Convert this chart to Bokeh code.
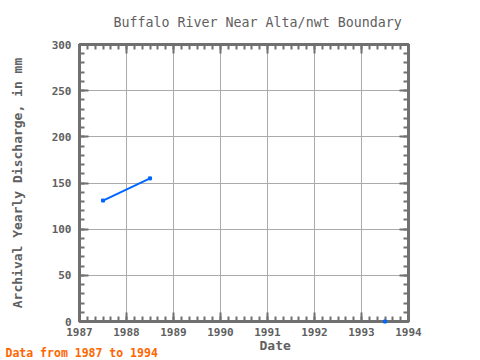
from bokeh.plotting import figure
from bokeh.models import Range1d, LinearAxis, Title, FixedTicker
from bokeh.embed import file_html
from bokeh.resources import INLINE

years = [1987.5, 1988.5, 1989.5, 1990.5, 1991.5, 1992.5, 1993.5]
discharge = [131.0, 155.0, float("nan"), float("nan"), float("nan"), float("nan"), 0.0]
x_ticks = [1987, 1988, 1989, 1990, 1991, 1992, 1993, 1994]
y_ticks = [0, 50, 100, 150, 200, 250, 300]
title_text = "Buffalo River Near Alta/nwt Boundary"
y_label = "Archival Yearly Discharge, in mm"
x_label = "Date"
note_text = "Data from 1987 to 1994"

FONT = "DejaVu Sans Mono"
GRAY = "#707070"
TXT = "#606060"

p = figure(width=480, height=360, output_backend="svg", toolbar_location=None,
           x_range=Range1d(1987, 1994), y_range=Range1d(0, 300),
           frame_width=329, frame_height=277,
           min_border_left=79, min_border_right=72, min_border_top=44, min_border_bottom=39,
           x_axis_location=None, y_axis_location=None)

p.outline_line_color = GRAY
p.outline_line_width = 3

minor_x = [1987 + i / 6 for i in range(43)]
minor_y = list(range(0, 301, 10))

def mk_axis(kind, labels):
    ax = LinearAxis()
    if kind == "x":
        ax.ticker = FixedTicker(ticks=x_ticks, minor_ticks=minor_x)
    else:
        ax.ticker = FixedTicker(ticks=y_ticks, minor_ticks=minor_y)
    ax.axis_line_color = GRAY
    ax.axis_line_width = 3
    ax.major_tick_line_color = GRAY
    ax.minor_tick_line_color = GRAY
    ax.major_tick_line_width = 2
    ax.minor_tick_line_width = 2
    ax.major_tick_in = 9
    ax.major_tick_out = 0
    ax.minor_tick_in = 5
    ax.minor_tick_out = 0
    if labels:
        ax.major_label_text_font = FONT
        ax.major_label_text_font_size = "11px"
        ax.major_label_text_color = TXT
        ax.major_label_text_font_style = "bold"
    else:
        ax.major_label_text_font_size = "0px"
        ax.major_label_text_color = None
        ax.major_label_standoff = 0
    return ax

bx = mk_axis("x", True)
bx.major_label_standoff = 6
p.add_layout(bx, "below")

ly = mk_axis("y", True)
ly.major_label_standoff = 8
ly.axis_label = y_label
ly.axis_label_text_font = FONT
ly.axis_label_text_font_size = "13px"
ly.axis_label_text_font_style = "bold"
ly.axis_label_text_color = TXT
ly.axis_label_standoff = 24
p.add_layout(ly, "left")

p.add_layout(mk_axis("x", False), "above")
p.add_layout(mk_axis("y", False), "right")

p.xgrid.ticker = FixedTicker(ticks=x_ticks)
p.ygrid.ticker = FixedTicker(ticks=y_ticks)
for g in (p.xgrid, p.ygrid):
    g.grid_line_color = "#aaaaaa"
    g.grid_line_width = 1

p.line(years, discharge, line_color="#0066ff", line_width=2)
p.scatter(years, discharge, marker="square", size=3, color="#0066ff", level="overlay")

p.title.text = title_text
p.title.text_font = FONT
p.title.text_font_size = "13.3px"
p.title.text_font_style = "normal"
p.title.text_color = TXT
p.title.align = "left"
p.title.offset = 34
p.title.standoff = 25
p.title.vertical_align = "top"

date_title = Title(text=x_label, text_font=FONT, text_font_size="13px", text_font_style="bold",
                   text_color=TXT, align="left", offset=180, standoff=-4,
                   vertical_align="middle")
p.add_layout(date_title, "below")

note_title = Title(text=note_text, text_font=FONT, text_font_size="11.5px", text_font_style="bold",
                   text_color="#ff6600", align="left", offset=-74, standoff=-14,
                   vertical_align="middle")
p.add_layout(note_title, "below")

open("out.html", "w").write(file_html(p, INLINE))
